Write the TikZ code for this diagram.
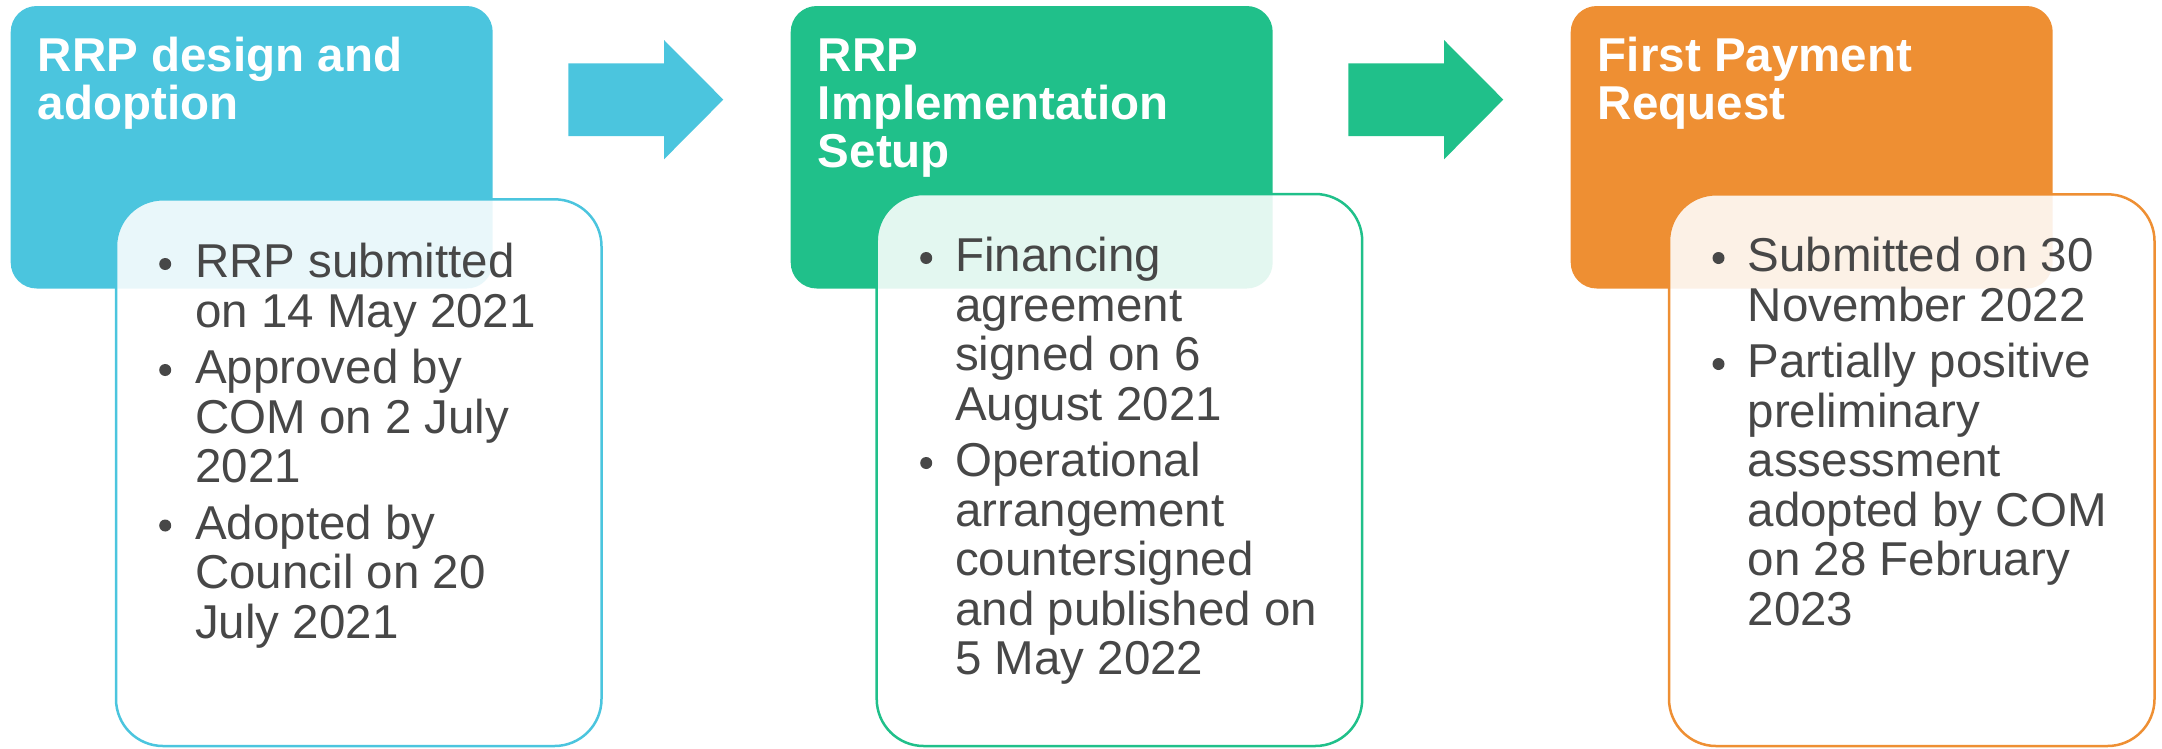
\documentclass[tikz,border=0pt]{standalone}
\usepackage{fontspec}
\setmainfont{Liberation Sans}
\definecolor{cblue}{HTML}{4BC5DE}
\definecolor{cgreen}{HTML}{20C08A}
\definecolor{corange}{HTML}{EE8F33}
\definecolor{ctext}{HTML}{474747}
\begin{document}
\begin{tikzpicture}[x=1pt,y=-1pt,
  header/.style={anchor=north west, inner sep=0pt, outer sep=0pt, rounded corners=26pt,
                 minimum width=482pt, minimum height=282.5pt, fill=#1},
  detail/.style={anchor=north west, inner sep=0pt, outer sep=0pt, rounded corners=47pt,
                 minimum width=485.5pt, draw=#1, line width=2.5pt, fill=white, fill opacity=0.88},
  title/.style={anchor=base west, inner sep=0pt, text=white, font=\fontsize{47.5}{48}\selectfont\bfseries},
  body/.style={anchor=base west, inner sep=0pt, text=ctext, font=\fontsize{47.5}{49.5}\selectfont},
  dot/.style={circle, fill=ctext, inner sep=0pt, minimum size=12pt},
  blockarrow/.style={fill=#1}]
\useasboundingbox (0,0) rectangle (2162,748);

% header boxes
\node[header=cblue]   (h1) at (10.7,6) {};
\node[header=cgreen]  (h2) at (790.7,6) {};
\node[header=corange] (h3) at (1570.7,6) {};

% block arrows
\fill[blockarrow=cblue] (568.3,63.3) -- (664,63.3) -- (664,40) -- (723.3,99.6) -- (664,159.3) -- (664,136) -- (568.3,136) -- cycle;
\fill[blockarrow=cgreen] (1348.3,63.3) -- (1444,63.3) -- (1444,40) -- (1503.3,99.6) -- (1444,159.3) -- (1444,136) -- (1348.3,136) -- cycle;

% detail boxes
\node[detail=cblue, minimum height=546.7pt]   (d1) at (116,199.3) {};
\node[detail=cgreen, minimum height=552pt]    (d2) at (876.7,194) {};
\node[detail=corange, minimum height=551.7pt] (d3) at (1669,194.3) {};

% titles
\node[title] (t1a) at (37.7,71) {RRP design and};
\node[title] (t1b) at (37.7,119) {adoption};
\node[title] (t2a) at (817.7,71) {RRP};
\node[title] (t2b) at (817.7,119) {Implementation};
\node[title] (t2c) at (817.7,167) {Setup};
\node[title] (t3a) at (1597.7,71) {First Payment};
\node[title] (t3b) at (1597.7,119) {Request};

% body 1
\node[dot] (b1a) at (165.2,264) {};
\node[body] (l1a) at (195,277.5) {RRP submitted};
\node[body] (l1b) at (195,327) {on 14 May 2021};
\node[dot] (b1b) at (165.2,370) {};
\node[body] (l1c) at (195,383.5) {Approved by};
\node[body] (l1d) at (195,433) {COM on 2 July};
\node[body] (l1e) at (195,482.5) {2021};
\node[dot] (b1c) at (165.2,525.5) {};
\node[body] (l1f) at (195,539) {Adopted by};
\node[body] (l1g) at (195,588.5) {Council on 20};
\node[body] (l1h) at (195,638) {July 2021};

% body 2
\node[dot] (b2a) at (926.2,258) {};
\node[body] (l2a) at (955,271.5) {Financing};
\node[body] (l2b) at (955,321) {agreement};
\node[body] (l2c) at (955,370.5) {signed on 6};
\node[body] (l2d) at (955,420) {August 2021};
\node[dot] (b2b) at (926.2,463) {};
\node[body] (l2e) at (955,476.5) {Operational};
\node[body] (l2f) at (955,526) {arrangement};
\node[body] (l2g) at (955,575.5) {countersigned};
\node[body] (l2h) at (955,625) {and published on};
\node[body] (l2i) at (955,674.5) {5 May 2022};

% body 3
\node[dot] (b3a) at (1718.5,258) {};
\node[body] (l3a) at (1747.5,271.5) {Submitted on 30};
\node[body] (l3b) at (1747.5,321) {November 2022};
\node[dot] (b3b) at (1718.5,364) {};
\node[body] (l3c) at (1747.5,377.5) {Partially positive};
\node[body] (l3d) at (1747.5,427) {preliminary};
\node[body] (l3e) at (1747.5,476.5) {assessment};
\node[body] (l3f) at (1747.5,526) {adopted by COM};
\node[body] (l3g) at (1747.5,575.5) {on 28 February};
\node[body] (l3h) at (1747.5,625) {2023};
\end{tikzpicture}
\end{document}
